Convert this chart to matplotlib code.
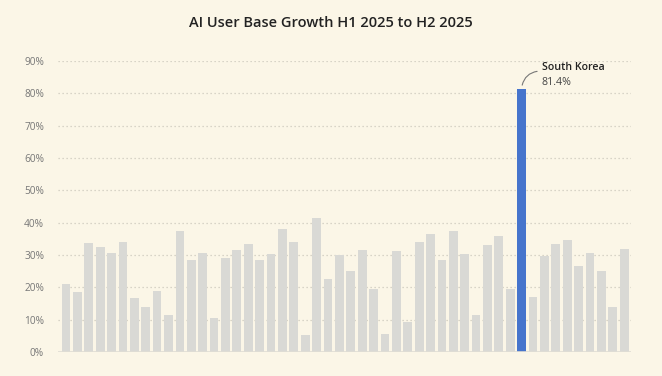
import matplotlib.pyplot as plt
from matplotlib.ticker import PercentFormatter

# growth per market, H1 2025 -> H2 2025 (fraction)
growth = [0.210, 0.185, 0.338, 0.324, 0.307, 0.340, 0.168, 0.140, 0.188, 0.114,
          0.373, 0.286, 0.305, 0.104, 0.291, 0.317, 0.335, 0.286, 0.302, 0.380,
          0.340, 0.054, 0.413, 0.226, 0.299, 0.251, 0.317, 0.196, 0.057, 0.312,
          0.094, 0.340, 0.364, 0.286, 0.375, 0.302, 0.114, 0.330, 0.360, 0.194,
          0.814, 0.170, 0.297, 0.333, 0.347, 0.266, 0.305, 0.249, 0.140, 0.319]
highlight_idx = 40
highlight_name = "South Korea"
yticks = [0, 0.1, 0.2, 0.3, 0.4, 0.5, 0.6, 0.7, 0.8, 0.9]

bg = "#FBF6E7"
plt.rcParams['font.family'] = ['Open Sans', 'DejaVu Sans']

fig = plt.figure(figsize=(6.62, 3.76), dpi=100, facecolor=bg)
ax = fig.add_axes([58 / 662, 24 / 376, 573 / 662, 291 / 376], facecolor=bg)

colors = ["#4674CC" if i == highlight_idx else "#D9D9D5" for i in range(len(growth))]
ax.bar(range(len(growth)), growth, width=0.77, color=colors, zorder=2)

ax.set_xlim(-0.7, len(growth) - 0.4)
ax.set_ylim(0, 0.9)
ax.set_yticks(yticks)
ax.yaxis.set_major_formatter(PercentFormatter(1.0, decimals=0))
ax.set_xticks([])
ax.tick_params(axis='y', length=0, labelsize=7.3, labelcolor="#777777", pad=10)
ax.grid(axis='y', linestyle=(0, (1, 2.2)), color="#CDC9BD", linewidth=0.9, zorder=0)
for s in ax.spines.values():
    s.set_visible(False)
ax.axhline(0, color="#E0DDD4", linewidth=1.2, zorder=3)

# annotation for the highlighted bar
v = growth[highlight_idx]
ax.annotate("", xy=(highlight_idx, v + 0.003), xytext=(highlight_idx + 1.6, v + 0.055),
            arrowprops=dict(arrowstyle="-", color="#777777", lw=0.8,
                            connectionstyle="arc3,rad=0.4"), annotation_clip=False)
ax.text(highlight_idx + 1.75, v + 0.065, highlight_name, fontsize=7.7, fontweight='semibold',
        color="#222222", va='center', ha='left')
ax.text(highlight_idx + 1.75, v + 0.02, f"{v * 100:.1f}%", fontsize=7.7,
        color="#444444", va='center', ha='left')

fig.text(0.5, 0.94, "AI User Base Growth H1 2025 to H2 2025", ha='center', va='center',
         fontsize=10.5, fontweight='semibold', color="#222222")

fig.savefig("out.png", dpi=100, facecolor=bg)
